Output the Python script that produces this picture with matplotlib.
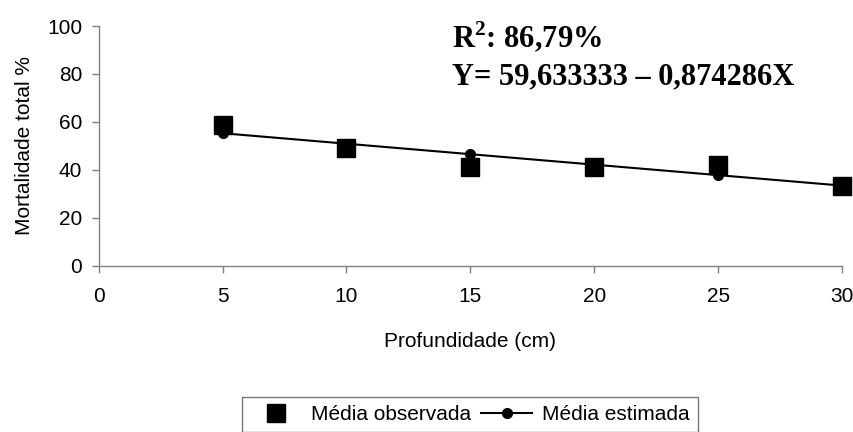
import matplotlib
matplotlib.use("Agg")
import matplotlib.pyplot as plt

plt.rcParams["font.family"] = ["Liberation Sans", "DejaVu Sans"]
plt.rcParams["mathtext.fontset"] = "custom"
plt.rcParams["mathtext.bf"] = "Liberation Serif:bold"

# profundidade (cm) e mortalidade total (%)
profundidade = [5, 10, 15, 20, 25, 30]
media_observada = [58.7, 49.0, 41.3, 41.3, 42.0, 33.4]
media_estimada = [55.26, 50.89, 46.52, 42.15, 37.78, 33.41]

x_ticks = [0, 5, 10, 15, 20, 25, 30]
y_ticks = [0, 20, 40, 60, 80, 100]

fig = plt.figure(figsize=(8.54, 4.32), dpi=100)
ax = fig.add_axes([0.1156, 0.385, 0.8704, 0.5548])

ln_est, = ax.plot(profundidade, media_estimada, color="black", lw=1.5,
                  marker="o", markersize=7, zorder=2, clip_on=False)
ln_obs, = ax.plot(profundidade, media_observada, ls="none", color="black",
                  marker="s", markersize=12.5, zorder=3, clip_on=False)

ax.set_xlim(0, 30)
ax.set_ylim(0, 100)
ax.set_xticks(x_ticks)
ax.set_yticks(y_ticks)

for side in ("top", "right"):
    ax.spines[side].set_visible(False)
for side in ("left", "bottom"):
    ax.spines[side].set_color("#808080")
    ax.spines[side].set_linewidth(1.0)
ax.tick_params(direction="out", length=5, width=1.0, color="#808080",
               labelsize=15)
ax.tick_params(axis="x", pad=10)
ax.tick_params(axis="y", pad=7)

ax.set_xlabel("Profundidade (cm)", fontsize=15, labelpad=19)
ax.set_ylabel("Mortalidade total %", fontsize=15, labelpad=9)

ax.text(0.4755, 0.91, r"R$^{\mathbf{2}}$: 86,79%", transform=ax.transAxes,
        family="Liberation Serif", fontweight="bold", fontsize=22)
ax.text(0.4755, 0.755, "Y= 59,633333 – 0,874286X", transform=ax.transAxes,
        family="Liberation Serif", fontweight="bold", fontsize=22)

leg = fig.legend([ln_obs, ln_est], ["Média observada", "Média estimada"],
                 loc="upper left", bbox_to_anchor=(0.2835, 0.0815),
                 borderaxespad=0, ncol=2, fontsize=15, frameon=True,
                 fancybox=False, handlelength=2.45, handletextpad=0.45,
                 columnspacing=0.5, borderpad=0.4)
leg.get_frame().set_edgecolor("#555555")
leg.get_frame().set_linewidth(1.0)

fig.savefig("out.png", dpi=100)
